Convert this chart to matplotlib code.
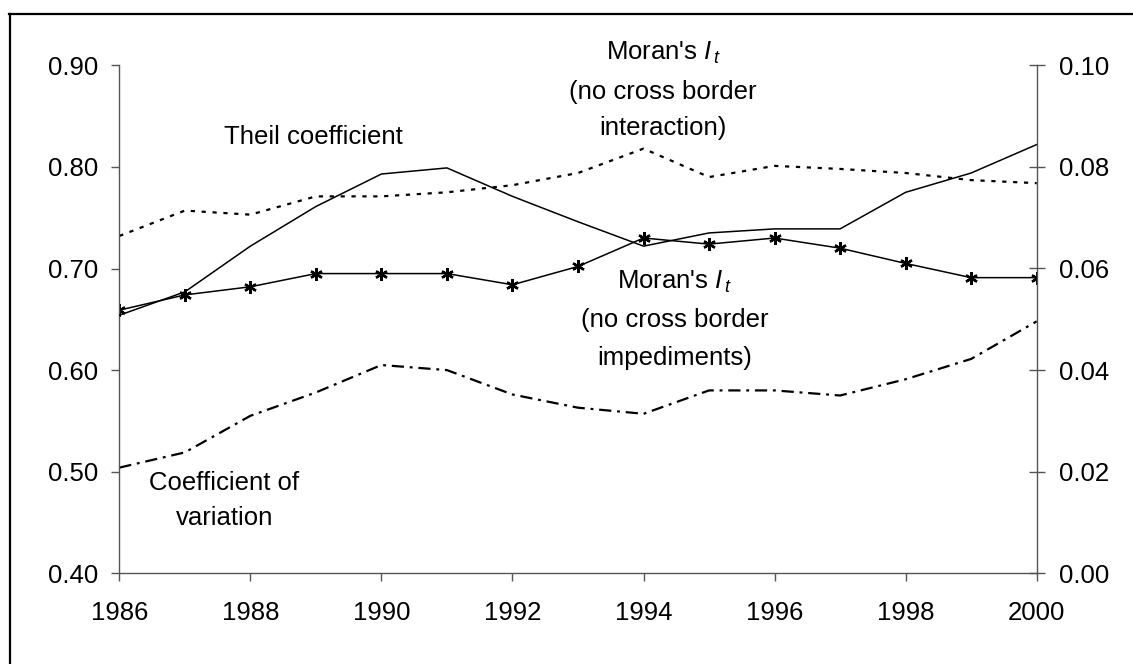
"""
Inequality and spatial autocorrelation indices, 1986-2000
"""

import matplotlib
matplotlib.use("Agg")
import matplotlib.pyplot as plt  # type: ignore
from matplotlib.lines import Line2D  # type: ignore

plt.rcParams["font.family"] = ["Liberation Sans", "DejaVu Sans"]
plt.rcParams["mathtext.fontset"] = "custom"
plt.rcParams["mathtext.rm"] = "Liberation Sans"
plt.rcParams["mathtext.it"] = "Liberation Sans:italic"

years = list(range(1986, 2001))

# left axis
coef_variation = [0.504, 0.519, 0.555, 0.578, 0.605, 0.600, 0.576, 0.563,
                  0.557, 0.580, 0.580, 0.575, 0.591, 0.611, 0.648]
moran_no_impediments = [0.659, 0.674, 0.682, 0.695, 0.695, 0.695, 0.684, 0.702,
                        0.730, 0.724, 0.730, 0.720, 0.705, 0.691, 0.691]
moran_no_interaction = [0.732, 0.757, 0.753, 0.771, 0.771, 0.775, 0.782, 0.794,
                        0.818, 0.790, 0.801, 0.798, 0.794, 0.787, 0.784]
# right axis
theil = [0.0508, 0.0554, 0.0644, 0.0722, 0.0786, 0.0798, 0.0742, 0.0692,
         0.0644, 0.0670, 0.0678, 0.0678, 0.0750, 0.0788, 0.0844]

left_ticks = [0.40, 0.50, 0.60, 0.70, 0.80, 0.90]
right_ticks = [0.00, 0.02, 0.04, 0.06, 0.08, 0.10]
year_ticks = list(range(1986, 2001, 2))

W, H = 1133, 664
fig = plt.figure(figsize=(W / 100, H / 100), dpi=100)
ax = fig.add_axes([119.3 / W, 1 - 573.3 / H, (1036.7 - 119.3) / W, (573.3 - 65.3) / H])
ax2 = ax.twinx()

# outer frame (cut by the image edges on right and bottom)
fig.add_artist(Line2D([9 / W, 1.0], [1 - 14 / H, 1 - 14 / H], color="black", lw=1.6))
fig.add_artist(Line2D([9.5 / W, 9.5 / W], [0.0, 1 - 14 / H], color="black", lw=1.6))

ax.plot(years, moran_no_interaction, color="black", lw=1.6,
        linestyle=(0, (1.9, 3.0)), solid_capstyle="butt")
ax.plot(years, coef_variation, color="black", lw=1.6,
        linestyle=(0, (5.5, 2.6, 1.3, 2.6)))
ax.plot(years, moran_no_impediments, color="black", lw=1.1,
        marker=(6, 2, 0), markersize=9, markeredgewidth=1.7)
ax2.plot(years, theil, color="black", lw=1.1)

ax.set_xlim(1986, 2000)
ax.set_ylim(0.40, 0.90)
ax2.set_ylim(0.00, 0.10)
ax.set_xticks(year_ticks)
ax.set_yticks(left_ticks)
ax2.set_yticks(right_ticks)
ax.set_yticklabels([f"{v:.2f}" for v in left_ticks])
ax2.set_yticklabels([f"{v:.2f}" for v in right_ticks])

spine_col = "#555555"
for a in (ax, ax2):
    a.spines["top"].set_visible(False)
    for s in ("left", "right", "bottom"):
        a.spines[s].set_color(spine_col)
        a.spines[s].set_linewidth(1.0)
ax.spines["right"].set_visible(False)
ax2.spines["left"].set_visible(False)
ax2.spines["bottom"].set_visible(False)

fs = 18.5
ax.tick_params(axis="y", direction="out", length=6, width=1.0, color=spine_col,
               labelsize=fs, pad=9)
ax.tick_params(axis="x", direction="out", length=6, width=1.0, color=spine_col,
               labelsize=fs, pad=14)
ax2.tick_params(axis="y", direction="inout", length=12, width=1.0, color=spine_col,
                labelsize=fs, pad=10)

ax.text(1988.96, 0.8295, "Theil coefficient", ha="center", va="center", fontsize=fs)
ax.text(1994.30, 0.912, "Moran's $I_{\\,t}$", ha="center", va="center", fontsize=fs)
ax.text(1994.30, 0.874, "(no cross border", ha="center", va="center", fontsize=fs)
ax.text(1994.30, 0.838, "interaction)", ha="center", va="center", fontsize=fs)
ax.text(1994.48, 0.6866, "Moran's $I_{\\,t}$", ha="center", va="center", fontsize=fs)
ax.text(1994.48, 0.6492, "(no cross border", ha="center", va="center", fontsize=fs)
ax.text(1994.48, 0.6118, "impediments)", ha="center", va="center", fontsize=fs)
ax.text(1987.60, 0.4889, "Coefficient of", ha="center", va="center", fontsize=fs)
ax.text(1987.60, 0.4545, "variation", ha="center", va="center", fontsize=fs)

fig.savefig("out.png", dpi=100)
